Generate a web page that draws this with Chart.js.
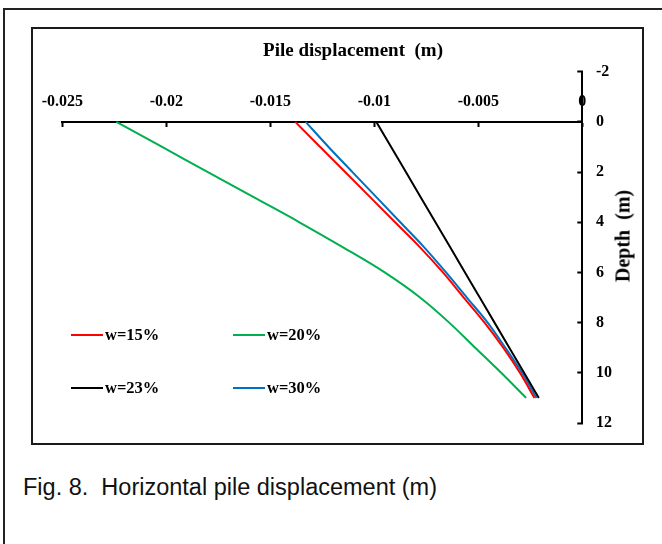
<!DOCTYPE html>
<html>
<head>
<meta charset="utf-8">
<script src="https://cdn.jsdelivr.net/npm/chart.js@4.4.0/dist/chart.umd.min.js"></script>
<style>
  body { margin: 0; width: 662px; height: 544px; background: #fff; position: relative; overflow: hidden; font-family: "Liberation Serif", serif; }
  .outer { position: absolute; left: 3px; top: 8px; width: 700px; height: 600px; border-left: 2px solid #222; border-top: 2px solid #222; }
  .frame { position: absolute; left: 31px; top: 27px; width: 613px; height: 418px; border: 2px solid #1a1a1a; box-sizing: border-box; }
  #wrap { position: absolute; left: 33px; top: 29px; width: 609px; height: 414px; }
  .title { position: absolute; left: 353px; top: 50px; transform: translate(-50%, -50%); font-weight: bold; font-size: 19px; white-space: pre; }
  .ylab { position: absolute; left: 623px; top: 236px; transform: translate(-50%, -50%) rotate(-90deg); font-weight: bold; font-size: 20px; white-space: pre; }
  .caption { position: absolute; left: 23px; top: 487px; transform: translateY(-50%); font-family: "Liberation Sans", Arial, sans-serif; font-size: 23.5px; white-space: pre; color: #111; }
  .leg { position: absolute; display: flex; align-items: center; font-weight: bold; font-size: 16.5px; transform: translateY(-50%); }
  .leg i { display: inline-block; width: 32px; height: 2px; margin-right: 2px; }
</style>
</head>
<body>
<div class="outer"></div>
<div class="frame"></div>
<div id="wrap"><canvas id="chart" width="609" height="414"></canvas></div>
<div class="title">Pile displacement  (m)</div>
<div class="ylab">Depth  (m)</div>
<div class="caption">Fig. 8.  Horizontal pile displacement (m)</div>
<div id="legend"></div>
<script>
// depth below ground (m)
const depths = [0, 1, 2, 3, 4, 5, 6, 7, 8, 9, 10, 11];

// horizontal displacement (m) for each water content
const w15 = [-0.0138, -0.0126, -0.0114, -0.0102, -0.0090, -0.0078, -0.0067, -0.0057, -0.0047, -0.0038, -0.0030, -0.0023];
const w20 = [-0.0224, -0.0202, -0.0180, -0.0158, -0.0136, -0.0115, -0.0095, -0.0078, -0.0064, -0.00515, -0.0039, -0.0027];
const w23 = [-0.0099, -0.00919, -0.00848, -0.00777, -0.00706, -0.00635, -0.00564, -0.00493, -0.00422, -0.00351, -0.0028, -0.00209];
const w30 = [-0.0133, -0.0122, -0.01105, -0.0099, -0.00875, -0.0076, -0.00655, -0.00555, -0.00455, -0.0037, -0.0029, -0.0022];

const seriesLabels = ["w=15%", "w=20%", "w=23%", "w=30%"];
const seriesColors = ["#ff0000", "#00b050", "#000000", "#0070c0"];
const seriesValues = [w15, w20, w23, w30];

const xTickLabels = ["-0.025", "-0.02", "-0.015", "-0.01", "-0.005", "0"];
const yTickLabels = ["-2", "0", "2", "4", "6", "8", "10", "12"];

const tickFont = { family: "Liberation Serif", size: 16, weight: "bold" };

// pick the printed label that matches a tick value
const labelFor = (list, v) => list.find((l) => Math.abs(Number(l) - v) < 1e-9) ?? "";

const datasets = seriesValues.map((vals, i) => ({
  label: seriesLabels[i],
  data: depths.map((d, j) => ({ x: vals[j], y: d })),
  borderColor: seriesColors[i],
  backgroundColor: seriesColors[i],
  borderWidth: 2,
  pointRadius: 0,
  showLine: true,
  cubicInterpolationMode: "monotone",
}));

new Chart(document.getElementById("chart"), {
  type: "scatter",
  data: { datasets },
  options: {
    responsive: false,
    animation: false,
    layout: { padding: { left: 29.3, right: 19.7, top: 42.7, bottom: 20 } },
    plugins: { legend: { display: false }, tooltip: { enabled: false } },
    scales: {
      x: {
        type: "linear",
        position: { y: 0 },
        min: -0.025,
        max: 0,
        ticks: {
          stepSize: 0.005,
          padding: -33.8,
          color: "#000",
          font: tickFont,
          maxRotation: 0,
          autoSkip: false,
          callback: (v) => labelFor(xTickLabels, v),
        },
        grid: { drawOnChartArea: false, tickLength: 4, tickWidth: 2, tickColor: "#000" },
        border: { color: "#000", width: 2 },
      },
      y: {
        type: "linear",
        position: "right",
        reverse: true,
        min: -2,
        max: 12,
        ticks: {
          stepSize: 2,
          padding: 18.7,
          color: "#000",
          font: tickFont,
          callback: (v) => labelFor(yTickLabels, v),
        },
        grid: { drawOnChartArea: false, tickLength: -5, tickWidth: 2, tickColor: "#000" },
        border: { color: "#000", width: 2 },
        afterFit: (s) => {
          s.width = 40;
          // the label padding would otherwise shrink the plot vertically
          s.paddingTop = 0;
          s.paddingBottom = 0;
        },
      },
    },
  },
});

// legend laid out in two rows inside the plot, like the original
const legendPos = [[71, 335], [233, 335], [71, 388], [233, 388]];
const legend = document.getElementById("legend");
seriesLabels.forEach((lab, i) => {
  const el = document.createElement("div");
  el.className = "leg";
  el.style.left = legendPos[i][0] + "px";
  el.style.top = legendPos[i][1] + "px";
  el.innerHTML = `<i style="background:${seriesColors[i]}"></i>${lab}`;
  legend.appendChild(el);
});
</script>
</body>
</html>
